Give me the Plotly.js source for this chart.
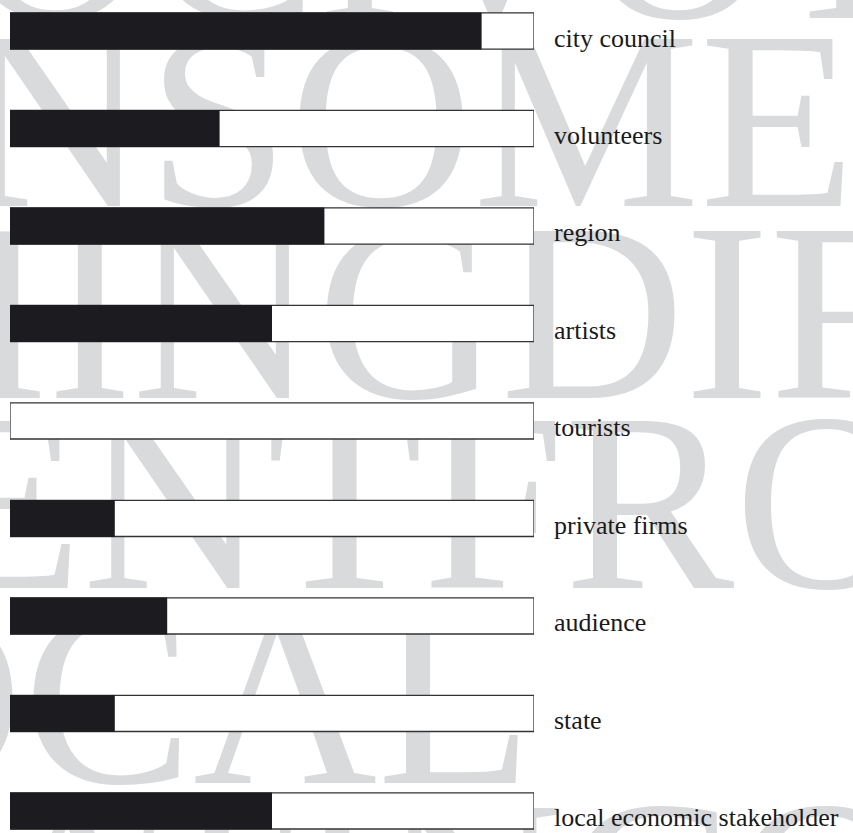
<!DOCTYPE html>
<html>
<head>
<meta charset="utf-8">
<script src="https://cdn.plot.ly/plotly-3.0.1.min.js"></script>
<style>html,body{margin:0;padding:0;background:#fff;}#chart{width:853px;height:833px;}</style>
</head>
<body>
<div id="chart"></div>
<script>
// ---- data ----
const categories = ["city council", "volunteers", "region", "artists", "tourists",
                    "private firms", "audience", "state", "local economic stakeholder"];
const shares = [0.9, 0.4, 0.6, 0.5, 0.0, 0.2, 0.3, 0.2, 0.5];
const fullScale = [1, 1, 1, 1, 1, 1, 1, 1, 1];

// decorative background words (rows of large grey type)
const bgWords = ["OCIVOTE", "INSOME-", "HINGDIFF", "ERENTFROM", "LOCAL", "ATINCOM"];
const bgBaselinePx = [-16, 172, 364, 554, 749, 941];
const bgStartPx = [-40, -125, -140, -402, -320, -20];

const W = 853, H = 833, L = 10, PW = 524;
const px2x = p => (p - L) / PW;
const py2y = p => (H - p) / H;
const bgSize = 255;

const shapes = bgWords.map((w, i) => ({
  type: 'rect', xref: 'paper', yref: 'paper', layer: 'below',
  x0: px2x(bgStartPx[i]), x1: px2x(bgStartPx[i] + 1200),
  y0: py2y(bgBaselinePx[i]), y1: py2y(bgBaselinePx[i] - 160),
  line: {width: 0}, fillcolor: 'rgba(0,0,0,0)',
  label: {text: w, textposition: 'middle left', padding: 0,
          font: {family: 'Liberation Serif', size: bgSize, color: '#d9dadb'}}
}));

const annotations = categories.map((c, i) => ({
  x: 1, y: c, xref: 'x', yref: 'y', xanchor: 'left', yanchor: 'middle',
  xshift: 18, yshift: -7, showarrow: false, text: c,
  font: {family: 'Liberation Serif', size: 26, color: '#1a1a1a'}
}));

const traces = [
  {type: 'bar', orientation: 'h', y: categories, x: fullScale, width: 0.37,
   marker: {color: '#ffffff', line: {color: '#333333', width: 1.3}},
   hoverinfo: 'skip', showlegend: false},
  {type: 'bar', orientation: 'h', y: categories, x: shares, width: 0.38,
   marker: {color: '#1c1b1f', line: {width: 0}},
   showlegend: false}
];

const layout = {
  width: W, height: H,
  margin: {l: L, r: W - L - PW, t: 0, b: 0, pad: 0},
  paper_bgcolor: '#ffffff', plot_bgcolor: 'rgba(0,0,0,0)',
  barmode: 'overlay',
  xaxis: {range: [0, 1], showgrid: false, zeroline: false, showticklabels: false, ticks: '', showline: false, fixedrange: true},
  yaxis: {type: 'category', range: [8.226, -0.318], showgrid: false, zeroline: false, showticklabels: false, ticks: '', showline: false, fixedrange: true},
  shapes: shapes,
  annotations: annotations,
  showlegend: false
};

Plotly.newPlot('chart', traces, layout, {displayModeBar: false, staticPlot: true});
</script>
</body>
</html>
